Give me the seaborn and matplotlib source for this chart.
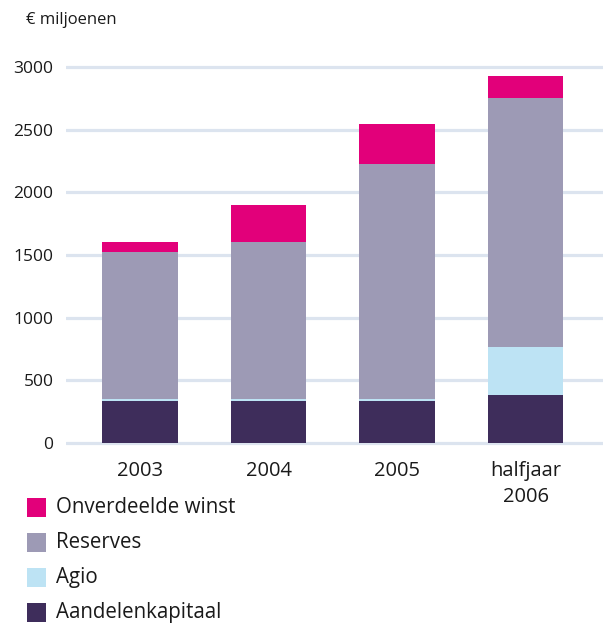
import numpy as np
import pandas as pd
import matplotlib
matplotlib.use("Agg")
import matplotlib.pyplot as plt
from matplotlib.patches import Rectangle
import seaborn as sns

categories = ["2003", "2004", "2005", "halfjaar\n2006"]
aandelenkapitaal = [335, 335, 335, 383]
agio = [15, 15, 15, 383]
reserves = [1174, 1254, 1876, 1987]
onverdeelde_winst = [80, 295, 319, 176]
yticks = [0, 500, 1000, 1500, 2000, 2500, 3000]

series_names = ["Onverdeelde winst", "Reserves", "Agio", "Aandelenkapitaal"]
colors = {"Onverdeelde winst": "#e2007a", "Reserves": "#9d9ab5",
          "Agio": "#bde3f4", "Aandelenkapitaal": "#3e2d5b"}

sns.set_theme(style="white")
plt.rcParams['font.family'] = ['Open Sans', 'DejaVu Sans']

fig = plt.figure(figsize=(6.03, 6.24), dpi=100)
ax = fig.add_axes([66/603, (624-445.5)/624, 537/603, 381/624])

# cumulative totals, drawn from tallest to shortest
layers = [aandelenkapitaal, agio, reserves, onverdeelde_winst]
cum = np.cumsum(np.array(layers), axis=0)
order = ["Aandelenkapitaal", "Agio", "Reserves", "Onverdeelde winst"]
for i in range(len(order) - 1, -1, -1):
    df = pd.DataFrame({"cat": categories, "val": cum[i]})
    sns.barplot(data=df, x="cat", y="val", color=colors[order[i]], width=0.59,
                saturation=1, ax=ax, zorder=3, edgecolor="none", linewidth=0)

ax.set_ylim(-20, 3020)
ax.set_xlim(-0.576, 3.603)
ax.set_yticks(yticks)
ax.set_yticklabels([str(t) for t in yticks], fontsize=12.5, color="#1a1a1a")
ax.tick_params(axis="y", length=0, pad=9)
ax.tick_params(axis="x", length=0, pad=11, labelsize=14.5, labelcolor="#1a1a1a")
for lbl in ax.get_xticklabels():
    lbl.set_linespacing(1.4)
ax.set_xlabel("")
ax.set_ylabel("")
for s in ax.spines.values():
    s.set_visible(False)
for t in yticks:
    ax.axhline(t, color="#dce4ef", lw=2.3, zorder=1)

fig.text(26/603, 1 - 20/624, "€ miljoenen", fontsize=12, va="center", ha="left", color="#1a1a1a")

# legend
rows = [507.5, 542.5, 577.5, 612.5]
for name, yc in zip(series_names, rows):
    fig.add_artist(Rectangle((27/603, 1 - (yc + 9.5)/624), 19/603, 19/624,
                             transform=fig.transFigure, facecolor=colors[name], edgecolor="none"))
    fig.text(56/603, 1 - yc/624, name, fontsize=14.8, va="center", ha="left", color="#1a1a1a")

fig.savefig("out.png", dpi=100)
